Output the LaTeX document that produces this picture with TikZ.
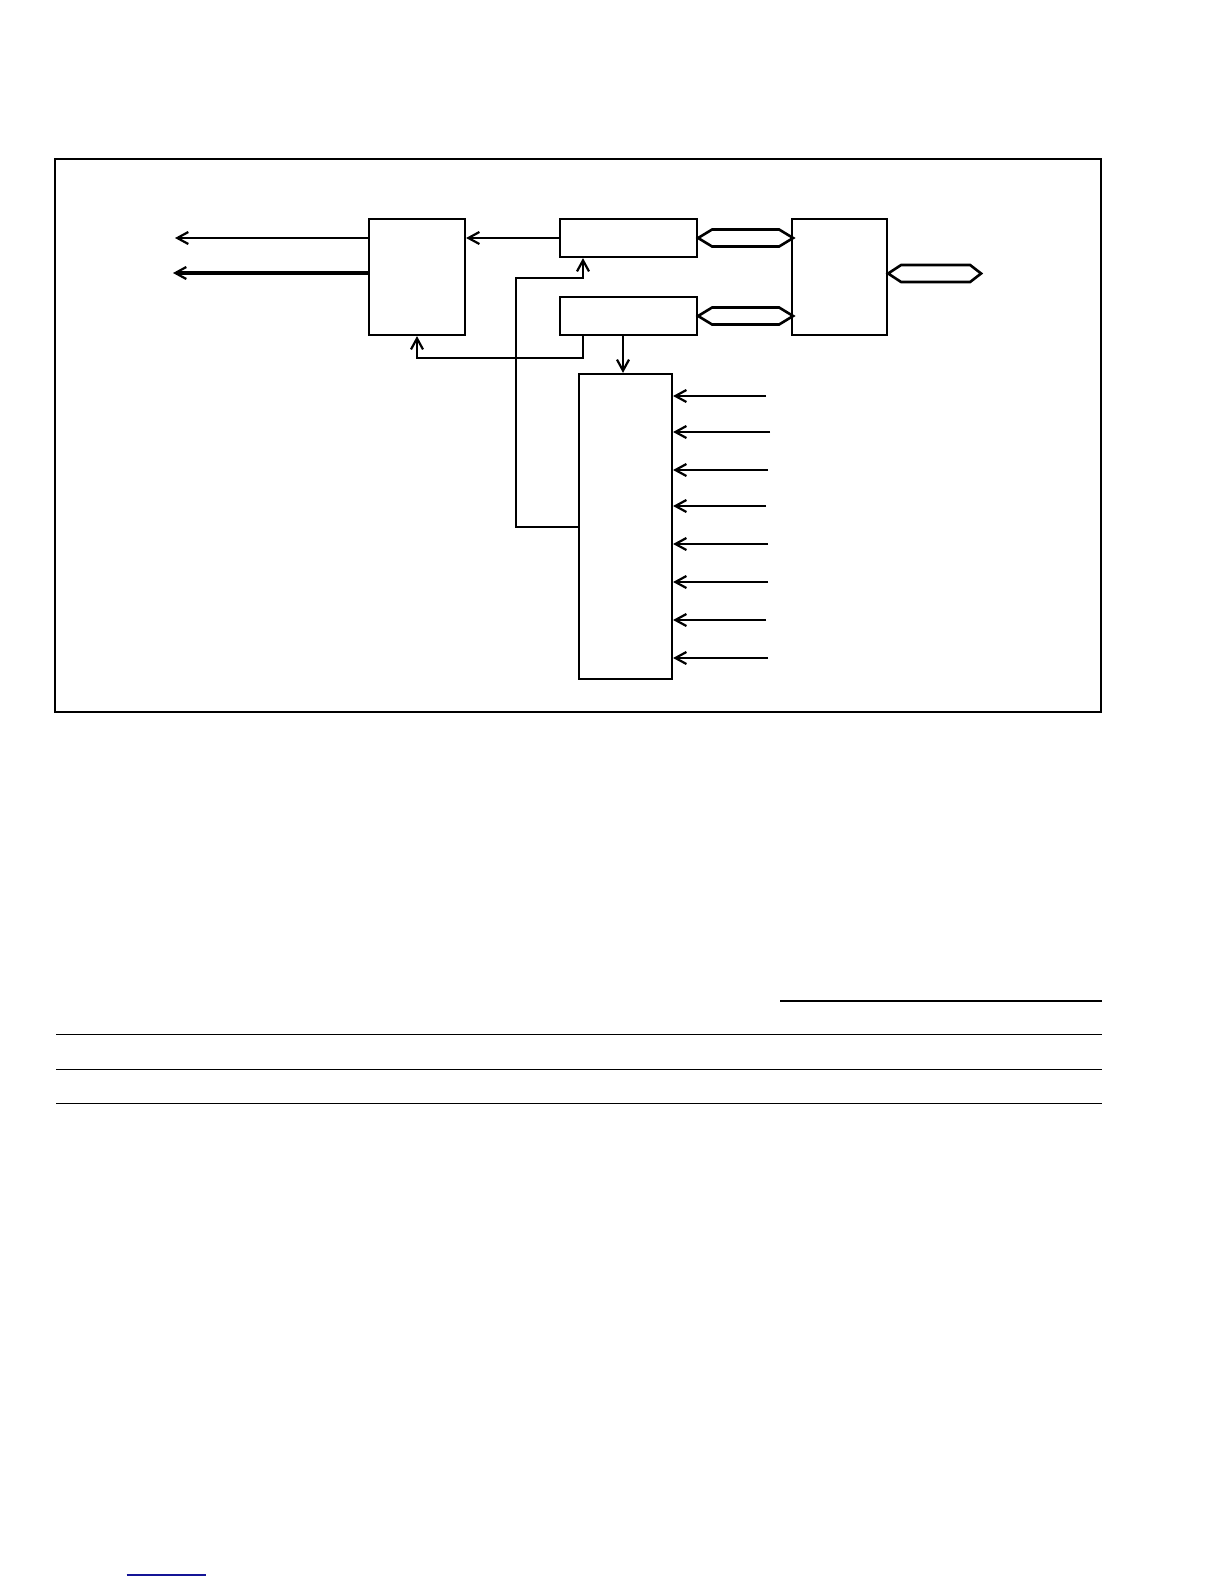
\documentclass[tikz,border=0pt]{standalone}
\usepackage{tikz}
\usetikzlibrary{arrows.meta,calc}
\tikzset{blk/.style={draw,line width=1.1pt,inner sep=0pt}, sig/.style={line width=1pt,-{Straight Barb[length=5.5pt,width=6pt,line width=1.1pt]}}}
\tikzset{bus/.style={line width=1.3pt,line join=miter}, rule/.style={line width=0.8pt}}

\begin{document}
\begin{tikzpicture}[x=0.5pt,y=-0.5pt]
  \useasboundingbox (0,0) rectangle (1224,1584);
  \draw[line width=0.9pt] (55,158.7) rectangle (1101,712);
  \begin{scope}
   \node[blk,minimum width=48pt,minimum height=58pt] (ctl) at (417,277) {};
   \node[blk,minimum width=68.5pt,minimum height=19pt] (buf) at (628.5,238) {};
   \node[blk,minimum width=68.5pt,minimum height=19pt] (cfg) at (628.5,316) {};
   \node[blk,minimum width=47.5pt,minimum height=58pt] (rom) at (839.5,277) {};
   \node[blk,minimum width=46.5pt,minimum height=152.5pt] (mem) at (625.5,526.5) {};
  \end{scope}
  % outputs on the left
  \coordinate (out1) at (175,238);
  \coordinate (out2) at (173,273);
  \draw[sig] (ctl.west |- out1) -- (out1);
  \draw[sig,line width=1.6pt] (ctl.west |- out2) -- (out2);
  \draw[sig] (buf.west) -- (ctl.east |- buf.west);
  % buses
  \draw[bus] (buf.east) -- ++(14,-8.5) -- ++(67,0) -- ++(14,8.5) -- ++(-14,8.5) -- ++(-67,0) -- cycle;
  \draw[bus] (cfg.east) -- ++(14,-8.5) -- ++(67,0) -- ++(14,8.5) -- ++(-14,8.5) -- ++(-67,0) -- cycle;
  \draw[bus] ([yshift=1.75pt]rom.east) -- ++(13,-8.5) -- ++(69,0) -- ++(11,8.5) -- ++(-11,8.5) -- ++(-69,0) -- cycle;
  % feedback paths
  \coordinate (fb1) at (583,358);
  \coordinate (fb2) at (516,278);
  \coordinate (fb3) at (623,374);
  \draw[sig] (fb1 |- cfg.south) -- (fb1) -| (ctl.south);
  \draw[sig] (fb3 |- cfg.south) -- (fb3 |- mem.north);
  \draw[sig] (mem.west) -| (fb2) -| (buf.south -| fb1);
  % inputs
  \foreach \i/\y/\x in {1/396/766,2/432/770,3/470/768,4/506/766,5/544/768,6/582/768,7/620/766,8/658/768}{
   \coordinate (in\i) at (\x,\y);
   \draw[sig] (in\i) -- (mem.east |- in\i);
  }
  \draw[rule] (780,1000.7) -- (1101.7,1000.7);
  \draw[rule] (56,1034.3) -- (1101.7,1034.3);
  \draw[rule] (56,1069.3) -- (1101.7,1069.3);
  \draw[rule] (56,1103.3) -- (1101.7,1103.3);
  \draw[line width=0.6pt,color={rgb,255:red,20;green,20;blue,150}] (126.7,1575) -- (206,1575);
 \end{tikzpicture}
\end{document}
